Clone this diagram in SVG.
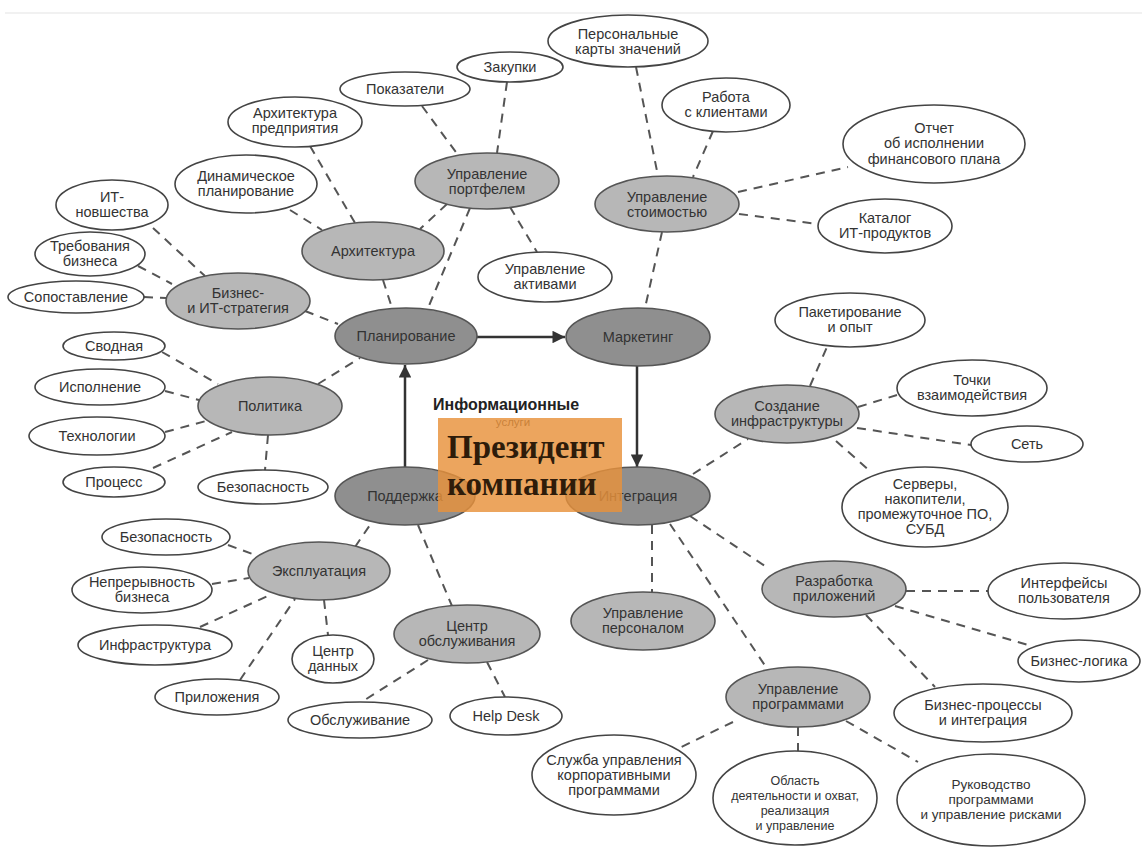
<svg xmlns="http://www.w3.org/2000/svg" width="1142" height="850" viewBox="0 0 1142 850">
<style>
text{font-family:"Liberation Sans",Arial,sans-serif;font-size:14.5px;fill:#333;text-anchor:middle}
.w{fill:#fff;stroke:#444;stroke-width:1.6}
.g{fill:#b7b7b7;stroke:#555;stroke-width:1.6}
.d{fill:#8f8f8f;stroke:#555;stroke-width:1.6}
.c line{stroke:#555;stroke-width:2;stroke-dasharray:9 7;fill:none}
.c line.a{stroke:#333;stroke-width:2.5;stroke-dasharray:none}
.sm{font-size:13.5px}
.xs{font-size:12.5px}
.pres{text-anchor:start;font-family:"Liberation Serif","Times New Roman",serif;font-weight:bold;font-size:33px;fill:#2e1c0a}
</style>
<defs>
<marker id="ah" viewBox="0 0 10 10" refX="10" refY="5" markerWidth="7" markerHeight="5" orient="auto" markerUnits="strokeWidth">
<path d="M0,0 L10,5 L0,10 z" fill="#333"/>
</marker>
</defs>
<rect width="1142" height="850" fill="#fff"/>
<line x1="5" y1="13" x2="1142" y2="13" stroke="#ececec" stroke-width="1.5"/>

<g id="connectors" class="c">
<line x1="422" y1="106" x2="458" y2="155"/>
<line x1="507" y1="82" x2="497" y2="153"/>
<line x1="636" y1="67" x2="658" y2="176"/>
<line x1="713" y1="131" x2="693" y2="177"/>
<line x1="738" y1="192" x2="848" y2="167"/>
<line x1="739" y1="214" x2="818" y2="224"/>
<line x1="662" y1="232" x2="645" y2="308"/>
<line x1="447" y1="204" x2="420" y2="229"/>
<line x1="470" y1="208" x2="428" y2="308"/>
<line x1="510" y1="207" x2="537" y2="252"/>
<line x1="310" y1="146" x2="355" y2="223"/>
<line x1="290" y1="210" x2="322" y2="230"/>
<line x1="383" y1="280" x2="392" y2="308"/>
<line x1="153" y1="228" x2="205" y2="276"/>
<line x1="138" y1="266" x2="172" y2="284"/>
<line x1="144" y1="297" x2="166" y2="298"/>
<line x1="305" y1="311" x2="338" y2="324"/>
<line x1="162" y1="352" x2="218" y2="384"/>
<line x1="165" y1="391" x2="199" y2="400"/>
<line x1="165" y1="432" x2="206" y2="421"/>
<line x1="153" y1="468" x2="232" y2="432"/>
<line x1="268" y1="435" x2="265" y2="470"/>
<line x1="318" y1="384" x2="360" y2="358"/>
<line x1="228" y1="545" x2="258" y2="556"/>
<line x1="212" y1="584" x2="249" y2="578"/>
<line x1="200" y1="627" x2="272" y2="594"/>
<line x1="240" y1="680" x2="295" y2="599"/>
<line x1="324" y1="600" x2="328" y2="635"/>
<line x1="355" y1="547" x2="372" y2="522"/>
<line x1="418" y1="525" x2="452" y2="606"/>
<line x1="428" y1="660" x2="360" y2="703"/>
<line x1="487" y1="662" x2="505" y2="697"/>
<line x1="652" y1="525" x2="652" y2="592"/>
<line x1="670" y1="524" x2="768" y2="670"/>
<line x1="690" y1="516" x2="765" y2="566"/>
<line x1="693" y1="474" x2="748" y2="439"/>
<line x1="810" y1="386" x2="827" y2="347"/>
<line x1="858" y1="407" x2="897" y2="395"/>
<line x1="857" y1="428" x2="971" y2="445"/>
<line x1="836" y1="441" x2="870" y2="471"/>
<line x1="906" y1="591" x2="988" y2="591"/>
<line x1="895" y1="606" x2="1028" y2="645"/>
<line x1="866" y1="615" x2="935" y2="687"/>
<line x1="846" y1="721" x2="918" y2="762"/>
<line x1="798" y1="727" x2="798" y2="751"/>
<line x1="733" y1="722" x2="675" y2="750"/>
<line class="a" x1="477" y1="337" x2="565" y2="337" marker-end="url(#ah)"/>
<line class="a" x1="637" y1="366" x2="637" y2="467" marker-end="url(#ah)"/>
<line class="a" x1="405" y1="467" x2="405" y2="365" marker-end="url(#ah)"/>
</g>

<g id="n_plan"><ellipse class="d" cx="406" cy="336" rx="71" ry="28"/><text x="406" y="341">Планирование</text></g>
<g id="n_mark"><ellipse class="d" cx="638" cy="337" rx="72" ry="29"/><text x="638" y="342">Маркетинг</text></g>
<g id="n_integ"><ellipse class="d" cx="638" cy="496" rx="72" ry="29"/><text x="638" y="501">Интеграция</text></g>
<g id="n_supp"><ellipse class="d" cx="405" cy="496" rx="70" ry="29"/><text x="405" y="501">Поддержка</text></g>

<g id="g_port"><ellipse class="g" cx="487" cy="181" rx="72" ry="28"/><text><tspan x="487" y="179">Управление</tspan><tspan x="487" y="194">портфелем</tspan></text></g>
<g id="g_cost"><ellipse class="g" cx="667" cy="204" rx="72" ry="28"/><text><tspan x="667" y="202">Управление</tspan><tspan x="667" y="217">стоимостью</tspan></text></g>
<g id="g_arch"><ellipse class="g" cx="373" cy="251" rx="71" ry="29"/><text x="373" y="256">Архитектура</text></g>
<g id="g_biz"><ellipse class="g" cx="238" cy="301" rx="72" ry="28"/><text><tspan x="238" y="298">Бизнес-</tspan><tspan x="238" y="313">и ИТ-стратегия</tspan></text></g>
<g id="g_pol"><ellipse class="g" cx="270" cy="406" rx="72" ry="29"/><text x="270" y="411">Политика</text></g>
<g id="g_expl"><ellipse class="g" cx="319" cy="571" rx="71" ry="29"/><text x="319" y="576">Эксплуатация</text></g>
<g id="g_svc"><ellipse class="g" cx="467" cy="634" rx="73" ry="29"/><text><tspan x="467" y="631">Центр</tspan><tspan x="467" y="646">обслуживания</tspan></text></g>
<g id="g_hr"><ellipse class="g" cx="643" cy="621" rx="72" ry="29"/><text><tspan x="643" y="618">Управление</tspan><tspan x="643" y="633">персоналом</tspan></text></g>
<g id="g_infra"><ellipse class="g" cx="787" cy="414" rx="72" ry="29"/><text><tspan x="787" y="411">Создание</tspan><tspan x="787" y="426">инфраструктуры</tspan></text></g>
<g id="g_dev"><ellipse class="g" cx="834" cy="589" rx="72" ry="28"/><text><tspan x="834" y="586">Разработка</tspan><tspan x="834" y="601">приложений</tspan></text></g>
<g id="g_prog"><ellipse class="g" cx="798" cy="697" rx="72" ry="30"/><text><tspan x="798" y="694">Управление</tspan><tspan x="798" y="709">программами</tspan></text></g>

<g id="w_pokaz"><ellipse class="w" cx="405" cy="89" rx="65" ry="17"/><text x="405" y="94">Показатели</text></g>
<g id="w_zak"><ellipse class="w" cx="510" cy="67" rx="53" ry="15"/><text x="510" y="72">Закупки</text></g>
<g id="w_pers"><ellipse class="w" cx="628" cy="41" rx="80" ry="26"/><text><tspan x="628" y="39">Персональные</tspan><tspan x="628" y="54">карты значений</tspan></text></g>
<g id="w_rab"><ellipse class="w" cx="726" cy="105" rx="64" ry="27"/><text><tspan x="726" y="102">Работа</tspan><tspan x="726" y="117">с клиентами</tspan></text></g>
<g id="w_otch"><ellipse class="w" cx="934" cy="144" rx="91" ry="39"/><text><tspan x="934" y="133">Отчет</tspan><tspan x="934" y="148">об исполнении</tspan><tspan x="934" y="164">финансового плана</tspan></text></g>
<g id="w_kat"><ellipse class="w" cx="885" cy="226" rx="67" ry="27"/><text><tspan x="885" y="223">Каталог</tspan><tspan x="885" y="238">ИТ-продуктов</tspan></text></g>
<g id="w_aktiv"><ellipse class="w" cx="545" cy="277" rx="67" ry="25"/><text><tspan x="545" y="274">Управление</tspan><tspan x="545" y="289">активами</tspan></text></g>
<g id="w_archp"><ellipse class="w" cx="295" cy="122" rx="67" ry="25"/><text><tspan x="295" y="118">Архитектура</tspan><tspan x="295" y="133">предприятия</tspan></text></g>
<g id="w_dyn"><ellipse class="w" cx="246" cy="184" rx="71" ry="29"/><text><tspan x="246" y="181">Динамическое</tspan><tspan x="246" y="196">планирование</tspan></text></g>
<g id="w_itn"><ellipse class="w" cx="112" cy="205" rx="56" ry="25"/><text><tspan x="112" y="202">ИТ-</tspan><tspan x="112" y="217">новшества</tspan></text></g>
<g id="w_treb"><ellipse class="w" cx="90" cy="254" rx="55" ry="22"/><text><tspan x="90" y="251">Требования</tspan><tspan x="90" y="266">бизнеса</tspan></text></g>
<g id="w_sop"><ellipse class="w" cx="76" cy="297" rx="68" ry="16"/><text x="76" y="302">Сопоставление</text></g>
<g id="w_svod"><ellipse class="w" cx="114" cy="346" rx="51" ry="14"/><text x="114" y="351">Сводная</text></g>
<g id="w_isp"><ellipse class="w" cx="100" cy="387" rx="65" ry="18"/><text x="100" y="392">Исполнение</text></g>
<g id="w_tech"><ellipse class="w" cx="97" cy="436" rx="68" ry="19"/><text x="97" y="441">Технологии</text></g>
<g id="w_proc"><ellipse class="w" cx="114" cy="482" rx="51" ry="15"/><text x="114" y="487">Процесс</text></g>
<g id="w_bez1"><ellipse class="w" cx="263" cy="487" rx="65" ry="17"/><text x="263" y="492">Безопасность</text></g>
<g id="w_bez2"><ellipse class="w" cx="166" cy="537" rx="64" ry="18"/><text x="166" y="542">Безопасность</text></g>
<g id="w_nepr"><ellipse class="w" cx="142" cy="590" rx="70" ry="23"/><text><tspan x="142" y="587">Непрерывность</tspan><tspan x="142" y="602">бизнеса</tspan></text></g>
<g id="w_infr"><ellipse class="w" cx="155" cy="645" rx="77" ry="20"/><text x="155" y="650">Инфраструктура</text></g>
<g id="w_cd"><ellipse class="w" cx="333" cy="659" rx="41" ry="24"/><text><tspan x="333" y="656">Центр</tspan><tspan x="333" y="671">данных</tspan></text></g>
<g id="w_pril"><ellipse class="w" cx="217" cy="697" rx="62" ry="18"/><text x="217" y="702">Приложения</text></g>
<g id="w_obsl"><ellipse class="w" cx="360" cy="720" rx="72" ry="18"/><text x="360" y="725">Обслуживание</text></g>
<g id="w_help"><ellipse class="w" cx="506" cy="716" rx="56" ry="19"/><text x="506" y="721">Help Desk</text></g>
<g id="w_slu"><ellipse class="w" cx="614" cy="775" rx="82" ry="40"/><text><tspan x="614" y="765">Служба управления</tspan><tspan x="614" y="780">корпоративными</tspan><tspan x="614" y="795">программами</tspan></text></g>
<g id="w_obl"><ellipse class="w" cx="795" cy="798" rx="82" ry="47"/><text class="xs"><tspan x="795" y="785">Область</tspan><tspan x="795" y="800">деятельности и охват,</tspan><tspan x="795" y="815">реализация</tspan><tspan x="795" y="830">и управление</tspan></text></g>
<g id="w_ruk"><ellipse class="w" cx="991" cy="800" rx="94" ry="46"/><text class="sm"><tspan x="991" y="789">Руководство</tspan><tspan x="991" y="804">программами</tspan><tspan x="991" y="819">и управление рисками</tspan></text></g>
<g id="w_bproc"><ellipse class="w" cx="983" cy="713" rx="89" ry="29"/><text><tspan x="983" y="710">Бизнес-процессы</tspan><tspan x="983" y="725">и интеграция</tspan></text></g>
<g id="w_blog"><ellipse class="w" cx="1079" cy="661" rx="61" ry="21"/><text x="1079" y="666">Бизнес-логика</text></g>
<g id="w_intf"><ellipse class="w" cx="1064" cy="591" rx="76" ry="28"/><text><tspan x="1064" y="588">Интерфейсы</tspan><tspan x="1064" y="603">пользователя</tspan></text></g>
<g id="w_paket"><ellipse class="w" cx="850" cy="320" rx="75" ry="27"/><text><tspan x="850" y="317">Пакетирование</tspan><tspan x="850" y="332">и опыт</tspan></text></g>
<g id="w_tochki"><ellipse class="w" cx="972" cy="388" rx="75" ry="28"/><text><tspan x="972" y="385">Точки</tspan><tspan x="972" y="400">взаимодействия</tspan></text></g>
<g id="w_set"><ellipse class="w" cx="1027" cy="444" rx="56" ry="18"/><text x="1027" y="449">Сеть</text></g>
<g id="w_serv"><ellipse class="w" cx="925" cy="507" rx="83" ry="40"/><text><tspan x="925" y="489">Серверы,</tspan><tspan x="925" y="504">накопители,</tspan><tspan x="925" y="519">промежуточное ПО,</tspan><tspan x="925" y="534">СУБД</tspan></text></g>

<g id="president">
<text x="433" y="410" style="text-anchor:start;font-weight:bold;font-size:16px;fill:#222">Информационные</text>
<text x="513" y="426" style="font-size:11.5px">услуги</text>
<rect x="438" y="418" width="184" height="94" fill="#e8913a" opacity="0.82"/>
<text class="pres" x="447" y="458">Президент</text>
<text class="pres" x="447" y="495">компании</text>
</g>
</svg>
